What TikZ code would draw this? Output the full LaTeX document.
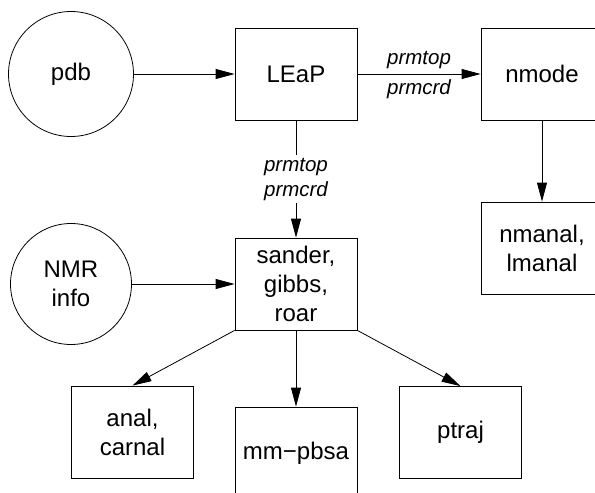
\documentclass[tikz,border=0pt]{standalone}
\usepackage{fontspec}
\setmainfont{Liberation Sans}
\usetikzlibrary{arrows.meta}
\begin{document}
\begin{tikzpicture}[x=1pt,y=-1pt,
  box/.style={draw, line width=0.8pt, minimum width=122pt, minimum height=92pt,
    inner sep=0pt, align=center, font=\fontsize{24}{29}\selectfont},
  src/.style={draw, circle, line width=0.8pt, inner sep=0pt, align=center,
    font=\fontsize{24}{29}\selectfont},
  flow/.style={-{Triangle[length=19pt,width=10pt]}, line width=0.8pt},
  lbl/.style={font=\fontsize{20.5}{25}\selectfont\itshape}]
\useasboundingbox (0,0) rectangle (595,493);
\clip (0,0) rectangle (595,493);
\fill[white] (0,0) rectangle (595,493);

% inputs
\node[src, minimum size=125pt] (pdb) at (71,74) {pdb};
\node[src, minimum size=121pt] (nmr) at (71,284) {NMR\\info};

% programs
\node[box] (leap)   at (296,74)  {LEaP};
\node[box] (nmode)  at (542,74)  {nmode};
\node[box] (nmanal) at (542,248) {nmanal,\\lmanal};
\node[box] (sander) at (296,284) {sander,\\gibbs,\\roar};
\node[box] (anal)   at (132.5,432) {anal,\\carnal};
\node[box] (mmpbsa) at (296,453) {mm\textminus pbsa};
\node[box] (ptraj)  at (460.5,432.5) {ptraj};

% data flow
\draw[flow] (pdb) -- (leap);
\draw[flow] (leap) -- node[lbl, above=2pt] {prmtop}
                      node[lbl, below=2pt] {prmcrd} (nmode);
\draw[flow] (nmode) -- (nmanal);
\draw[flow] (leap) -- node[lbl, fill=white, align=center, inner xsep=1pt, inner ysep=3pt]
                      {prmtop\\prmcrd} (sander);
\draw[flow] (nmr) -- (sander);
\draw[flow] (sander.south west) -- (anal.north);
\draw[flow] (sander) -- (mmpbsa);
\draw[flow] (sander.south east) -- (ptraj.north);
\end{tikzpicture}
\end{document}
